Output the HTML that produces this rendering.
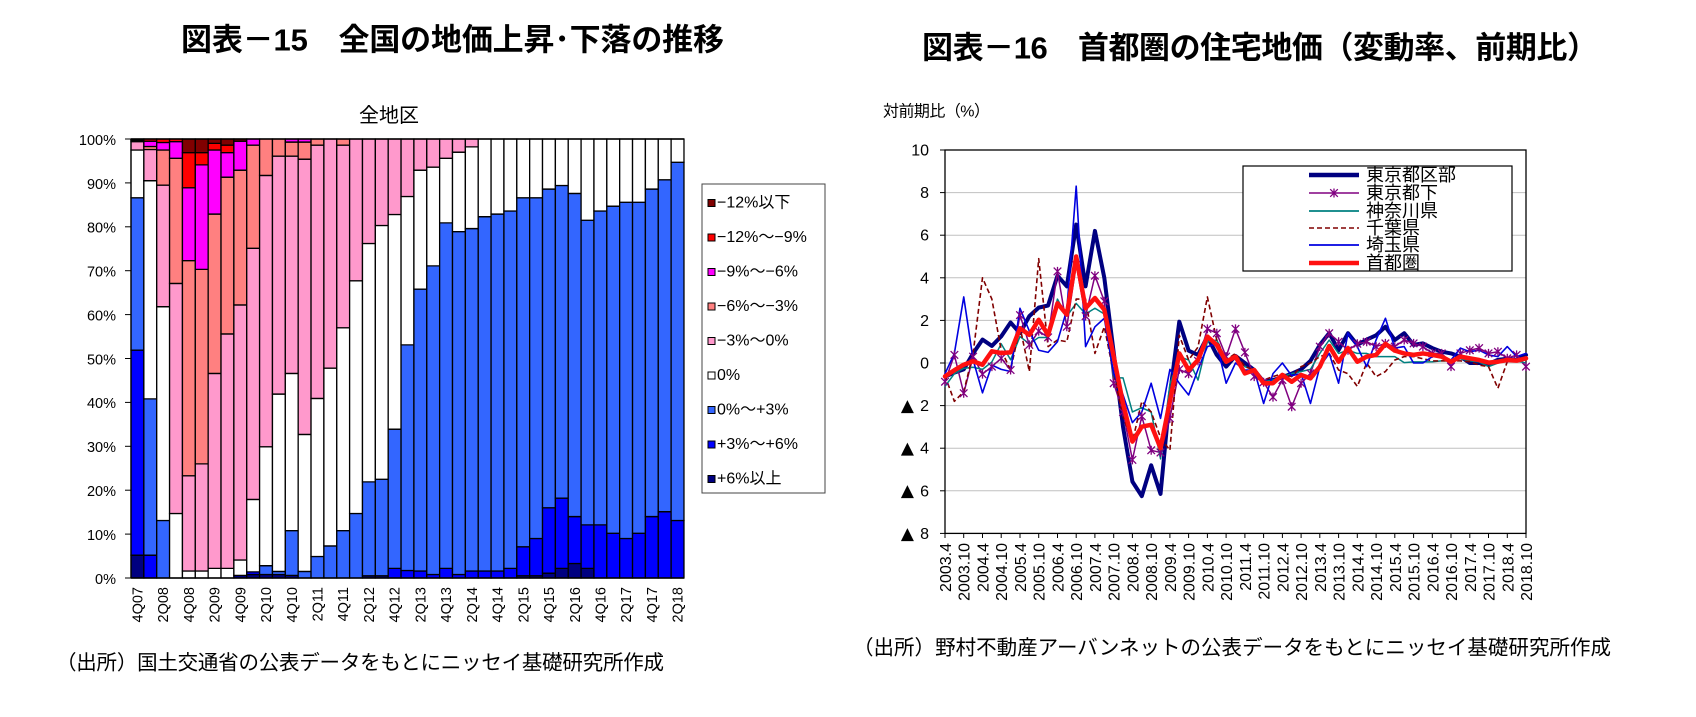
<!DOCTYPE html>
<html><head><meta charset="utf-8"><style>
html,body{margin:0;padding:0;background:#fff;}
svg{display:block;}
.bars rect{vector-effect:non-scaling-stroke;stroke:#000;stroke-width:1.3;}
.a{fill:#000080}.b{fill:#0000FF}.c{fill:#3366FF}.d{fill:#FFFFFF}.e{fill:#FF99CC}.f{fill:#FF8080}.g{fill:#FF00FF}.h{fill:#FF0000}.k{fill:#800000}
.ln polyline{vector-effect:non-scaling-stroke;fill:none;stroke-linejoin:round;stroke-linecap:round;}
text{font-family:"Liberation Sans","Noto Sans CJK JP",sans-serif;fill:#000;}
</style></head><body>
<svg width="1696" height="717" viewBox="0 0 1696 717" xmlns="http://www.w3.org/2000/svg">
<defs><path id="s" d="M0,-4.5V4.5M-3.8,-3.8L3.8,3.8M-3.8,3.8L3.8,-3.8" stroke="#800080" stroke-width="1.3" fill="none"/></defs>

<!-- Titles -->
<text x="181" y="40" font-size="31" font-weight="bold" dominant-baseline="central" textLength="543" lengthAdjust="spacing">図表－15　全国の地価上昇･下落の推移</text>
<text x="922" y="48" font-size="31" font-weight="bold" dominant-baseline="central" textLength="676" lengthAdjust="spacing">図表－16　首都圏の住宅地価（変動率、前期比）</text>

<!-- LEFT CHART -->
<text x="389" y="116" font-size="20" text-anchor="middle" dominant-baseline="central">全地区</text>
<g class="bars" transform="translate(131 578) scale(12.86 -4.39)">
<g transform="translate(0 0)"><rect class="a" x="0" y="0" width="1" height="5.2"/><rect class="b" x="0" y="5.2" width="1" height="46.7"/><rect class="c" x="0" y="51.9" width="1" height="34.7"/><rect class="d" x="0" y="86.6" width="1" height="10.9"/><rect class="e" x="0" y="97.5" width="1" height="1.9"/><rect class="f" x="0" y="99.4" width="1" height="0.3"/><rect class="k" x="0" y="99.7" width="1" height="0.3"/></g>
<g transform="translate(1 0)"><rect class="b" x="0" y="0" width="1" height="5.2"/><rect class="c" x="0" y="5.2" width="1" height="35.6"/><rect class="d" x="0" y="40.8" width="1" height="49.7"/><rect class="e" x="0" y="90.5" width="1" height="7.1"/><rect class="f" x="0" y="97.6" width="1" height="0.7"/><rect class="g" x="0" y="98.3" width="1" height="1.2"/><rect class="h" x="0" y="99.5" width="1" height="0.5"/></g>
<g transform="translate(2 0)"><rect class="c" x="0" y="0" width="1" height="13.1"/><rect class="d" x="0" y="13.1" width="1" height="48.7"/><rect class="e" x="0" y="61.8" width="1" height="27.7"/><rect class="f" x="0" y="89.5" width="1" height="8"/><rect class="g" x="0" y="97.5" width="1" height="1.7"/><rect class="h" x="0" y="99.2" width="1" height="0.8"/></g>
<g transform="translate(3 0)"><rect class="d" x="0" y="0" width="1" height="14.7"/><rect class="e" x="0" y="14.7" width="1" height="52.4"/><rect class="f" x="0" y="67.1" width="1" height="28.5"/><rect class="g" x="0" y="95.6" width="1" height="3.8"/><rect class="h" x="0" y="99.4" width="1" height="0.6"/></g>
<g transform="translate(4 0)"><rect class="d" x="0" y="0" width="1" height="1.6"/><rect class="e" x="0" y="1.6" width="1" height="21.7"/><rect class="f" x="0" y="23.3" width="1" height="49"/><rect class="g" x="0" y="72.3" width="1" height="16.6"/><rect class="h" x="0" y="88.9" width="1" height="8"/><rect class="k" x="0" y="96.9" width="1" height="3.1"/></g>
<g transform="translate(5 0)"><rect class="d" x="0" y="0" width="1" height="1.6"/><rect class="e" x="0" y="1.6" width="1" height="24.4"/><rect class="f" x="0" y="26" width="1" height="44.3"/><rect class="g" x="0" y="70.3" width="1" height="23.8"/><rect class="h" x="0" y="94.1" width="1" height="2.8"/><rect class="k" x="0" y="96.9" width="1" height="3.1"/></g>
<g transform="translate(6 0)"><rect class="d" x="0" y="0" width="1" height="2.2"/><rect class="e" x="0" y="2.2" width="1" height="44.4"/><rect class="f" x="0" y="46.6" width="1" height="36.3"/><rect class="g" x="0" y="82.9" width="1" height="14.6"/><rect class="h" x="0" y="97.5" width="1" height="1.5"/><rect class="k" x="0" y="99" width="1" height="1"/></g>
<g transform="translate(7 0)"><rect class="d" x="0" y="0" width="1" height="2.2"/><rect class="e" x="0" y="2.2" width="1" height="53.4"/><rect class="f" x="0" y="55.6" width="1" height="35.7"/><rect class="g" x="0" y="91.3" width="1" height="5.6"/><rect class="h" x="0" y="96.9" width="1" height="1.7"/><rect class="k" x="0" y="98.6" width="1" height="1.4"/></g>
<g transform="translate(8 0)"><rect class="a" x="0" y="0" width="1" height="0.6"/><rect class="d" x="0" y="0.6" width="1" height="3.5"/><rect class="e" x="0" y="4.1" width="1" height="58.1"/><rect class="f" x="0" y="62.2" width="1" height="30.7"/><rect class="g" x="0" y="92.9" width="1" height="6.6"/><rect class="k" x="0" y="99.5" width="1" height="0.5"/></g>
<g transform="translate(9 0)"><rect class="a" x="0" y="0" width="1" height="0.8"/><rect class="b" x="0" y="0.8" width="1" height="0.6"/><rect class="d" x="0" y="1.4" width="1" height="16.5"/><rect class="e" x="0" y="17.9" width="1" height="57.2"/><rect class="f" x="0" y="75.1" width="1" height="23.5"/><rect class="g" x="0" y="98.6" width="1" height="1.4"/></g>
<g transform="translate(10 0)"><rect class="a" x="0" y="0" width="1" height="0.8"/><rect class="c" x="0" y="0.8" width="1" height="2"/><rect class="d" x="0" y="2.8" width="1" height="27.1"/><rect class="e" x="0" y="29.9" width="1" height="61.8"/><rect class="f" x="0" y="91.7" width="1" height="8.3"/></g>
<g transform="translate(11 0)"><rect class="a" x="0" y="0" width="1" height="0.8"/><rect class="c" x="0" y="0.8" width="1" height="0.7"/><rect class="d" x="0" y="1.5" width="1" height="40.4"/><rect class="e" x="0" y="41.9" width="1" height="54.2"/><rect class="f" x="0" y="96.1" width="1" height="3.9"/></g>
<g transform="translate(12 0)"><rect class="a" x="0" y="0" width="1" height="0.6"/><rect class="c" x="0" y="0.6" width="1" height="10.2"/><rect class="d" x="0" y="10.8" width="1" height="35.8"/><rect class="e" x="0" y="46.6" width="1" height="49.5"/><rect class="f" x="0" y="96.1" width="1" height="3.2"/><rect class="g" x="0" y="99.3" width="1" height="0.7"/></g>
<g transform="translate(13 0)"><rect class="c" x="0" y="0" width="1" height="1.5"/><rect class="d" x="0" y="1.5" width="1" height="31.2"/><rect class="e" x="0" y="32.7" width="1" height="62.7"/><rect class="f" x="0" y="95.4" width="1" height="3.9"/><rect class="g" x="0" y="99.3" width="1" height="0.7"/></g>
<g transform="translate(14 0)"><rect class="c" x="0" y="0" width="1" height="4.9"/><rect class="d" x="0" y="4.9" width="1" height="36"/><rect class="e" x="0" y="40.9" width="1" height="57.7"/><rect class="f" x="0" y="98.6" width="1" height="1.4"/></g>
<g transform="translate(15 0)"><rect class="c" x="0" y="0" width="1" height="7.3"/><rect class="d" x="0" y="7.3" width="1" height="40.5"/><rect class="e" x="0" y="47.8" width="1" height="52.2"/></g>
<g transform="translate(16 0)"><rect class="c" x="0" y="0" width="1" height="10.8"/><rect class="d" x="0" y="10.8" width="1" height="46.2"/><rect class="e" x="0" y="57" width="1" height="41.6"/><rect class="f" x="0" y="98.6" width="1" height="1.4"/></g>
<g transform="translate(17 0)"><rect class="c" x="0" y="0" width="1" height="14.7"/><rect class="d" x="0" y="14.7" width="1" height="53"/><rect class="e" x="0" y="67.7" width="1" height="32.3"/></g>
<g transform="translate(18 0)"><rect class="a" x="0" y="0" width="1" height="0.5"/><rect class="c" x="0" y="0.5" width="1" height="21.4"/><rect class="d" x="0" y="21.9" width="1" height="54.3"/><rect class="e" x="0" y="76.2" width="1" height="23.8"/></g>
<g transform="translate(19 0)"><rect class="a" x="0" y="0" width="1" height="0.5"/><rect class="c" x="0" y="0.5" width="1" height="22"/><rect class="d" x="0" y="22.5" width="1" height="57.8"/><rect class="e" x="0" y="80.3" width="1" height="19.7"/></g>
<g transform="translate(20 0)"><rect class="b" x="0" y="0" width="1" height="2.2"/><rect class="c" x="0" y="2.2" width="1" height="31.7"/><rect class="d" x="0" y="33.9" width="1" height="48.9"/><rect class="e" x="0" y="82.8" width="1" height="17.2"/></g>
<g transform="translate(21 0)"><rect class="b" x="0" y="0" width="1" height="1.7"/><rect class="c" x="0" y="1.7" width="1" height="51.4"/><rect class="d" x="0" y="53.1" width="1" height="33.8"/><rect class="e" x="0" y="86.9" width="1" height="13.1"/></g>
<g transform="translate(22 0)"><rect class="b" x="0" y="0" width="1" height="1.6"/><rect class="c" x="0" y="1.6" width="1" height="64.2"/><rect class="d" x="0" y="65.8" width="1" height="27.1"/><rect class="e" x="0" y="92.9" width="1" height="7.1"/></g>
<g transform="translate(23 0)"><rect class="b" x="0" y="0" width="1" height="0.8"/><rect class="c" x="0" y="0.8" width="1" height="70.3"/><rect class="d" x="0" y="71.1" width="1" height="22.5"/><rect class="e" x="0" y="93.6" width="1" height="6.4"/></g>
<g transform="translate(24 0)"><rect class="b" x="0" y="0" width="1" height="2.2"/><rect class="c" x="0" y="2.2" width="1" height="78.7"/><rect class="d" x="0" y="80.9" width="1" height="14.7"/><rect class="e" x="0" y="95.6" width="1" height="4.4"/></g>
<g transform="translate(25 0)"><rect class="b" x="0" y="0" width="1" height="0.8"/><rect class="c" x="0" y="0.8" width="1" height="78.1"/><rect class="d" x="0" y="78.9" width="1" height="18.1"/><rect class="e" x="0" y="97" width="1" height="3"/></g>
<g transform="translate(26 0)"><rect class="b" x="0" y="0" width="1" height="1.6"/><rect class="c" x="0" y="1.6" width="1" height="78"/><rect class="d" x="0" y="79.6" width="1" height="18.6"/><rect class="e" x="0" y="98.2" width="1" height="1.8"/></g>
<g transform="translate(27 0)"><rect class="b" x="0" y="0" width="1" height="1.6"/><rect class="c" x="0" y="1.6" width="1" height="80.7"/><rect class="d" x="0" y="82.3" width="1" height="17.7"/></g>
<g transform="translate(28 0)"><rect class="b" x="0" y="0" width="1" height="1.6"/><rect class="c" x="0" y="1.6" width="1" height="81.3"/><rect class="d" x="0" y="82.9" width="1" height="17.1"/></g>
<g transform="translate(29 0)"><rect class="b" x="0" y="0" width="1" height="2.2"/><rect class="c" x="0" y="2.2" width="1" height="81.4"/><rect class="d" x="0" y="83.6" width="1" height="16.4"/></g>
<g transform="translate(30 0)"><rect class="a" x="0" y="0" width="1" height="0.5"/><rect class="b" x="0" y="0.5" width="1" height="6.6"/><rect class="c" x="0" y="7.1" width="1" height="79.5"/><rect class="d" x="0" y="86.6" width="1" height="13.4"/></g>
<g transform="translate(31 0)"><rect class="a" x="0" y="0" width="1" height="0.5"/><rect class="b" x="0" y="0.5" width="1" height="8.5"/><rect class="c" x="0" y="9" width="1" height="77.6"/><rect class="d" x="0" y="86.6" width="1" height="13.4"/></g>
<g transform="translate(32 0)"><rect class="a" x="0" y="0" width="1" height="1.1"/><rect class="b" x="0" y="1.1" width="1" height="14.9"/><rect class="c" x="0" y="16" width="1" height="72.6"/><rect class="d" x="0" y="88.6" width="1" height="11.4"/></g>
<g transform="translate(33 0)"><rect class="a" x="0" y="0" width="1" height="2.2"/><rect class="b" x="0" y="2.2" width="1" height="16"/><rect class="c" x="0" y="18.2" width="1" height="71.2"/><rect class="d" x="0" y="89.4" width="1" height="10.6"/></g>
<g transform="translate(34 0)"><rect class="a" x="0" y="0" width="1" height="3.3"/><rect class="b" x="0" y="3.3" width="1" height="10.7"/><rect class="c" x="0" y="14" width="1" height="73.6"/><rect class="d" x="0" y="87.6" width="1" height="12.4"/></g>
<g transform="translate(35 0)"><rect class="a" x="0" y="0" width="1" height="2.2"/><rect class="b" x="0" y="2.2" width="1" height="9.9"/><rect class="c" x="0" y="12.1" width="1" height="69.4"/><rect class="d" x="0" y="81.5" width="1" height="18.5"/></g>
<g transform="translate(36 0)"><rect class="b" x="0" y="0" width="1" height="12.1"/><rect class="c" x="0" y="12.1" width="1" height="71.5"/><rect class="d" x="0" y="83.6" width="1" height="16.4"/></g>
<g transform="translate(37 0)"><rect class="b" x="0" y="0" width="1" height="10.2"/><rect class="c" x="0" y="10.2" width="1" height="74.5"/><rect class="d" x="0" y="84.7" width="1" height="15.3"/></g>
<g transform="translate(38 0)"><rect class="b" x="0" y="0" width="1" height="9"/><rect class="c" x="0" y="9" width="1" height="76.6"/><rect class="d" x="0" y="85.6" width="1" height="14.4"/></g>
<g transform="translate(39 0)"><rect class="b" x="0" y="0" width="1" height="10.2"/><rect class="c" x="0" y="10.2" width="1" height="75.4"/><rect class="d" x="0" y="85.6" width="1" height="14.4"/></g>
<g transform="translate(40 0)"><rect class="b" x="0" y="0" width="1" height="14"/><rect class="c" x="0" y="14" width="1" height="74.6"/><rect class="d" x="0" y="88.6" width="1" height="11.4"/></g>
<g transform="translate(41 0)"><rect class="b" x="0" y="0" width="1" height="15.1"/><rect class="c" x="0" y="15.1" width="1" height="75.6"/><rect class="d" x="0" y="90.7" width="1" height="9.3"/></g>
<g transform="translate(42 0)"><rect class="b" x="0" y="0" width="1" height="13.1"/><rect class="c" x="0" y="13.1" width="1" height="81.6"/><rect class="d" x="0" y="94.7" width="1" height="5.3"/></g>
</g>
<line x1="131" y1="578" x2="684" y2="578" stroke="#000" stroke-width="1.5"/>
<line x1="131" y1="139" x2="131" y2="578" stroke="#000" stroke-width="1.2"/>
<line x1="131" y1="139" x2="684" y2="139" stroke="#000" stroke-width="1.5"/>
<g stroke="#000" stroke-width="1">
<line x1="125" y1="578" x2="131" y2="578"/><line x1="125" y1="534.1" x2="131" y2="534.1"/><line x1="125" y1="490.2" x2="131" y2="490.2"/><line x1="125" y1="446.3" x2="131" y2="446.3"/><line x1="125" y1="402.4" x2="131" y2="402.4"/><line x1="125" y1="358.5" x2="131" y2="358.5"/><line x1="125" y1="314.6" x2="131" y2="314.6"/><line x1="125" y1="270.7" x2="131" y2="270.7"/><line x1="125" y1="226.8" x2="131" y2="226.8"/><line x1="125" y1="182.9" x2="131" y2="182.9"/><line x1="125" y1="139" x2="131" y2="139"/>
</g>
<g font-size="14.5" text-anchor="end" dominant-baseline="central" fill="#111">
<text x="116" y="580">0%</text><text x="116" y="536">10%</text><text x="116" y="492">20%</text><text x="116" y="448">30%</text><text x="116" y="404">40%</text><text x="116" y="360.5">50%</text><text x="116" y="316.5">60%</text><text x="116" y="272.5">70%</text><text x="116" y="228.5">80%</text><text x="116" y="185">90%</text><text x="116" y="141">100%</text>
</g>
<g font-size="14.5" text-anchor="end">
<text transform="translate(142.4 587) rotate(-90)">4Q07</text>
<text transform="translate(168.2 587) rotate(-90)">2Q08</text>
<text transform="translate(193.9 587) rotate(-90)">4Q08</text>
<text transform="translate(219.6 587) rotate(-90)">2Q09</text>
<text transform="translate(245.3 587) rotate(-90)">4Q09</text>
<text transform="translate(271.1 587) rotate(-90)">2Q10</text>
<text transform="translate(296.8 587) rotate(-90)">4Q10</text>
<text transform="translate(322.5 587) rotate(-90)">2Q11</text>
<text transform="translate(348.2 587) rotate(-90)">4Q11</text>
<text transform="translate(374.0 587) rotate(-90)">2Q12</text>
<text transform="translate(399.7 587) rotate(-90)">4Q12</text>
<text transform="translate(425.4 587) rotate(-90)">2Q13</text>
<text transform="translate(451.1 587) rotate(-90)">4Q13</text>
<text transform="translate(476.9 587) rotate(-90)">2Q14</text>
<text transform="translate(502.6 587) rotate(-90)">4Q14</text>
<text transform="translate(528.3 587) rotate(-90)">2Q15</text>
<text transform="translate(554.0 587) rotate(-90)">4Q15</text>
<text transform="translate(579.8 587) rotate(-90)">2Q16</text>
<text transform="translate(605.5 587) rotate(-90)">4Q16</text>
<text transform="translate(631.2 587) rotate(-90)">2Q17</text>
<text transform="translate(656.9 587) rotate(-90)">4Q17</text>
<text transform="translate(682.7 587) rotate(-90)">2Q18</text>
</g>
<!-- left legend -->
<rect x="702" y="184" width="123" height="309" fill="#fff" stroke="#444" stroke-width="1"/>
<g stroke="#000" stroke-width="1">
<rect x="708" y="199.5" width="7" height="7" fill="#800000"/>
<rect x="708" y="234" width="7" height="7" fill="#FF0000"/>
<rect x="708" y="268.5" width="7" height="7" fill="#FF00FF"/>
<rect x="708" y="303" width="7" height="7" fill="#FF8080"/>
<rect x="708" y="337.5" width="7" height="7" fill="#FF99CC"/>
<rect x="708" y="372" width="7" height="7" fill="#FFFFFF"/>
<rect x="708" y="406.5" width="7" height="7" fill="#3366FF"/>
<rect x="708" y="441" width="7" height="7" fill="#0000FF"/>
<rect x="708" y="475.5" width="7" height="7" fill="#000080"/>
</g>
<g font-size="16" dominant-baseline="central" fill="#222">
<text x="717" y="203">−12%以下</text>
<text x="717" y="237.5">−12%〜−9%</text>
<text x="717" y="272">−9%〜−6%</text>
<text x="717" y="306.5">−6%〜−3%</text>
<text x="717" y="341">−3%〜0%</text>
<text x="717" y="375.5">0%</text>
<text x="717" y="410">0%〜+3%</text>
<text x="717" y="444.5">+3%〜+6%</text>
<text x="717" y="479">+6%以上</text>
</g>
<text x="56" y="663" font-size="20.5" dominant-baseline="central" textLength="608" lengthAdjust="spacing">（出所）国土交通省の公表データをもとにニッセイ基礎研究所作成</text>

<!-- RIGHT CHART -->
<text x="883" y="112" font-size="16" dominant-baseline="central" textLength="107" lengthAdjust="spacing">対前期比（%）</text>
<g stroke="#C0C0C0" stroke-width="1">
<line x1="945" y1="192.6" x2="1526" y2="192.6"/><line x1="945" y1="235.2" x2="1526" y2="235.2"/><line x1="945" y1="277.8" x2="1526" y2="277.8"/><line x1="945" y1="320.4" x2="1526" y2="320.4"/><line x1="945" y1="363" x2="1526" y2="363"/><line x1="945" y1="405.6" x2="1526" y2="405.6"/><line x1="945" y1="448.2" x2="1526" y2="448.2"/><line x1="945" y1="490.8" x2="1526" y2="490.8"/>
</g>
<g stroke="#000" stroke-width="1">
<line x1="940" y1="150" x2="945" y2="150"/><line x1="940" y1="192.6" x2="945" y2="192.6"/><line x1="940" y1="235.2" x2="945" y2="235.2"/><line x1="940" y1="277.8" x2="945" y2="277.8"/><line x1="940" y1="320.4" x2="945" y2="320.4"/><line x1="940" y1="363" x2="945" y2="363"/><line x1="940" y1="405.6" x2="945" y2="405.6"/><line x1="940" y1="448.2" x2="945" y2="448.2"/><line x1="940" y1="490.8" x2="945" y2="490.8"/><line x1="940" y1="533.4" x2="945" y2="533.4"/>
<line x1="945.0" y1="533" x2="945.0" y2="538"/><line x1="963.7" y1="533" x2="963.7" y2="538"/><line x1="982.5" y1="533" x2="982.5" y2="538"/><line x1="1001.2" y1="533" x2="1001.2" y2="538"/><line x1="1020.0" y1="533" x2="1020.0" y2="538"/><line x1="1038.7" y1="533" x2="1038.7" y2="538"/><line x1="1057.5" y1="533" x2="1057.5" y2="538"/><line x1="1076.2" y1="533" x2="1076.2" y2="538"/><line x1="1094.9" y1="533" x2="1094.9" y2="538"/><line x1="1113.7" y1="533" x2="1113.7" y2="538"/><line x1="1132.4" y1="533" x2="1132.4" y2="538"/><line x1="1151.2" y1="533" x2="1151.2" y2="538"/><line x1="1169.9" y1="533" x2="1169.9" y2="538"/><line x1="1188.6" y1="533" x2="1188.6" y2="538"/><line x1="1207.4" y1="533" x2="1207.4" y2="538"/><line x1="1226.1" y1="533" x2="1226.1" y2="538"/><line x1="1244.9" y1="533" x2="1244.9" y2="538"/><line x1="1263.6" y1="533" x2="1263.6" y2="538"/><line x1="1282.4" y1="533" x2="1282.4" y2="538"/><line x1="1301.1" y1="533" x2="1301.1" y2="538"/><line x1="1319.8" y1="533" x2="1319.8" y2="538"/><line x1="1338.6" y1="533" x2="1338.6" y2="538"/><line x1="1357.3" y1="533" x2="1357.3" y2="538"/><line x1="1376.1" y1="533" x2="1376.1" y2="538"/><line x1="1394.8" y1="533" x2="1394.8" y2="538"/><line x1="1413.6" y1="533" x2="1413.6" y2="538"/><line x1="1432.3" y1="533" x2="1432.3" y2="538"/><line x1="1451.0" y1="533" x2="1451.0" y2="538"/><line x1="1469.8" y1="533" x2="1469.8" y2="538"/><line x1="1488.5" y1="533" x2="1488.5" y2="538"/><line x1="1507.3" y1="533" x2="1507.3" y2="538"/><line x1="1526.0" y1="533" x2="1526.0" y2="538"/>
</g>
<rect x="945" y="150" width="581" height="383.4" fill="none" stroke="#000" stroke-width="1.3"/>
<g font-size="16" text-anchor="end" dominant-baseline="central">
<text x="929" y="151">10</text><text x="929" y="193.6">8</text><text x="929" y="236.2">6</text><text x="929" y="278.8">4</text><text x="929" y="321.4">2</text><text x="929" y="364">0</text><text x="929" y="406.6">2</text><text x="929" y="449.2">4</text><text x="929" y="491.8">6</text><text x="929" y="534.4">8</text>
</g>
<g font-size="17" text-anchor="end" dominant-baseline="central" style="font-family:'DejaVu Sans',sans-serif">
<text x="914" y="406" style="font-family:'DejaVu Sans',sans-serif">▲</text><text x="914" y="448.6" style="font-family:'DejaVu Sans',sans-serif">▲</text><text x="914" y="491.2" style="font-family:'DejaVu Sans',sans-serif">▲</text><text x="914" y="533.8" style="font-family:'DejaVu Sans',sans-serif">▲</text>
</g>
<g font-size="16" text-anchor="end">
<text transform="translate(951.0 543) rotate(-90)">2003.4</text>
<text transform="translate(969.7 543) rotate(-90)">2003.10</text>
<text transform="translate(988.5 543) rotate(-90)">2004.4</text>
<text transform="translate(1007.2 543) rotate(-90)">2004.10</text>
<text transform="translate(1026.0 543) rotate(-90)">2005.4</text>
<text transform="translate(1044.7 543) rotate(-90)">2005.10</text>
<text transform="translate(1063.5 543) rotate(-90)">2006.4</text>
<text transform="translate(1082.2 543) rotate(-90)">2006.10</text>
<text transform="translate(1100.9 543) rotate(-90)">2007.4</text>
<text transform="translate(1119.7 543) rotate(-90)">2007.10</text>
<text transform="translate(1138.4 543) rotate(-90)">2008.4</text>
<text transform="translate(1157.2 543) rotate(-90)">2008.10</text>
<text transform="translate(1175.9 543) rotate(-90)">2009.4</text>
<text transform="translate(1194.6 543) rotate(-90)">2009.10</text>
<text transform="translate(1213.4 543) rotate(-90)">2010.4</text>
<text transform="translate(1232.1 543) rotate(-90)">2010.10</text>
<text transform="translate(1250.9 543) rotate(-90)">2011.4</text>
<text transform="translate(1269.6 543) rotate(-90)">2011.10</text>
<text transform="translate(1288.4 543) rotate(-90)">2012.4</text>
<text transform="translate(1307.1 543) rotate(-90)">2012.10</text>
<text transform="translate(1325.8 543) rotate(-90)">2013.4</text>
<text transform="translate(1344.6 543) rotate(-90)">2013.10</text>
<text transform="translate(1363.3 543) rotate(-90)">2014.4</text>
<text transform="translate(1382.1 543) rotate(-90)">2014.10</text>
<text transform="translate(1400.8 543) rotate(-90)">2015.4</text>
<text transform="translate(1419.6 543) rotate(-90)">2015.10</text>
<text transform="translate(1438.3 543) rotate(-90)">2016.4</text>
<text transform="translate(1457.0 543) rotate(-90)">2016.10</text>
<text transform="translate(1475.8 543) rotate(-90)">2017.4</text>
<text transform="translate(1494.5 543) rotate(-90)">2017.10</text>
<text transform="translate(1513.3 543) rotate(-90)">2018.4</text>
<text transform="translate(1532.0 543) rotate(-90)">2018.10</text>
</g>

<g class="ln" transform="translate(945 363) scale(9.371 -21.3)">
<polyline stroke="#000080" stroke-width="4" points="0,-0.64 1,-0.45 2,-0.3 3,0.45 4,1.1 5,0.8 6,1.25 7,1.9 8,1.4 9,2.2 10,2.6 11,2.7 12,4.1 13,3.6 14,6.5 15,3.6 16,6.2 17,4.0 18,0.5 19,-3.0 20,-5.57 21,-6.25 22,-4.8 23,-6.15 24,-1.5 25,1.94 26,0.58 27,0.38 28,1.24 29,0.38 30,-0.17 31,0.33 32,0 33,-0.33 34,-0.88 35,-0.8 36,-0.67 37,-0.5 38,-0.3 39,0.1 40,0.85 41,1.4 42,0.6 43,1.4 44,0.85 45,1.1 46,1.3 47,1.7 48,1.08 49,1.4 50,0.85 51,0.92 52,0.7 53,0.53 54,0.45 55,0.3 56,0 57,0 58,-0.05 59,0.15 60,0.2 61,0.15 62,0.38"/>
<polyline stroke="#800080" stroke-width="1.5" points="0,-0.88 1,0.38 2,-1.42 3,0.3 4,-0.52 5,-0.17 6,0.22 7,-0.33 8,2.25 9,0.85 10,1.5 11,1.2 12,4.3 13,1.7 14,4.6 15,2.2 16,4.1 17,2.9 18,-0.95 19,-2.3 20,-4.55 21,-2.5 22,-4.1 23,-4.2 24,-2.6 25,-0.3 26,-0.5 27,0.1 28,1.6 29,1.4 30,0.3 31,1.6 32,0.5 33,-0.64 34,-0.9 35,-1.6 36,-0.8 37,-2.05 38,-0.95 39,-0.49 40,0.77 41,1.4 42,1.0 43,0.6 44,0.9 45,1.0 46,0.77 47,0.92 48,0.77 49,1.08 50,0.92 51,0.77 52,0.45 53,0.45 54,-0.17 55,0.45 56,0.6 57,0.7 58,0.45 59,0.53 60,0.22 61,0.38 62,-0.17"/>
<polyline stroke="#008080" stroke-width="1.5" points="0,-1.1 1,-0.5 2,-0.25 3,-0.2 4,-0.3 5,0.05 6,0.9 7,0.15 8,1.24 9,0.9 10,1.2 11,1.2 12,3.0 13,2.2 14,2.8 15,2.3 16,2.57 17,2.3 18,-0.7 19,-0.7 20,-2.3 21,-2.1 22,-2.3 23,-4.5 24,-1.0 25,0.3 26,0.14 27,-0.8 28,1.0 29,1.08 30,0.14 31,0.3 32,-0.17 33,-0.33 34,-0.88 35,-0.8 36,-0.64 37,-0.5 38,-0.4 39,-0.3 40,0.45 41,1.08 42,0.45 43,0.6 44,0.45 45,0.45 46,0.3 47,0.3 48,0.3 49,0.02 50,0.05 51,0.05 52,0.06 53,0.1 54,0.1 55,0.2 56,0.1 57,0.05 58,-0.17 59,0 60,0.1 61,0.1 62,0"/>
<polyline stroke="#800000" stroke-width="1.6" stroke-dasharray="5 3" style="stroke-linecap:butt" points="0,-0.6 1,-1.8 2,-1.35 3,0.45 4,4.0 5,3.0 6,0.6 7,-0.33 8,1.7 9,-0.4 10,4.9 11,0.77 12,1.08 13,1.0 14,3.0 15,3.0 16,0.45 17,1.7 18,-0.5 19,-2.5 20,-3.69 21,-1.8 22,-2.3 23,-3.5 24,-4.1 25,1.3 26,0.14 27,0.75 28,3.1 29,1.08 30,0.14 31,0.45 32,-0.17 33,-0.33 34,-0.8 35,-0.64 36,-0.5 37,-0.64 38,-0.17 39,0 40,0.3 41,0.45 42,-0.33 43,-0.5 44,-1.1 45,0 46,-0.64 47,-0.4 48,0.14 49,0.3 50,0.3 51,0.2 52,0.1 53,0.1 54,0.1 55,0.1 56,0.06 57,-0.1 58,-0.17 59,-1.19 60,0.06 61,0.14 62,0.14"/>
<polyline stroke="#0000E0" stroke-width="1.6" points="0,-0.5 1,0.45 2,3.1 3,0.15 4,-1.4 5,-0.1 6,-0.3 7,-0.4 8,2.57 9,1.5 10,0.6 11,0.5 12,1.0 13,2.5 14,8.3 15,0.77 16,1.7 17,2.1 18,-0.5 19,-1.5 20,-2.8 21,-2.3 22,-0.95 23,-2.6 24,-0.3 25,-0.95 26,-1.5 27,-0.3 28,0.77 29,0.9 30,-0.95 31,0 32,-0.33 33,-0.33 34,-1.9 35,-0.5 36,0 37,-0.6 38,-0.5 39,-1.9 40,-0.17 41,0.45 42,-0.95 43,1.4 44,0.77 45,-0.17 46,1.08 47,2.1 48,0.7 49,0.77 50,0 51,0 52,0.3 53,0.3 54,0.14 55,0.7 56,0.53 57,0.6 58,0.38 59,0.3 60,0.77 61,0.3 62,0.45"/>
</g>
<g>
<use href="#s" x="945.0" y="381.7"/><use href="#s" x="954.4" y="354.9"/><use href="#s" x="963.7" y="393.2"/><use href="#s" x="973.1" y="356.6"/><use href="#s" x="982.5" y="374.1"/><use href="#s" x="991.9" y="366.6"/><use href="#s" x="1001.2" y="358.3"/><use href="#s" x="1010.6" y="370.0"/><use href="#s" x="1020.0" y="315.1"/><use href="#s" x="1029.3" y="344.9"/><use href="#s" x="1038.7" y="331.1"/><use href="#s" x="1048.1" y="337.4"/><use href="#s" x="1057.5" y="271.4"/><use href="#s" x="1066.8" y="326.8"/><use href="#s" x="1076.2" y="265.0"/><use href="#s" x="1085.6" y="316.1"/><use href="#s" x="1094.9" y="275.7"/><use href="#s" x="1104.3" y="301.2"/><use href="#s" x="1113.7" y="383.2"/><use href="#s" x="1123.0" y="412.0"/><use href="#s" x="1132.4" y="459.9"/><use href="#s" x="1141.8" y="416.3"/><use href="#s" x="1151.2" y="450.3"/><use href="#s" x="1160.5" y="452.5"/><use href="#s" x="1169.9" y="418.4"/><use href="#s" x="1179.3" y="369.4"/><use href="#s" x="1188.6" y="373.7"/><use href="#s" x="1198.0" y="360.9"/><use href="#s" x="1207.4" y="328.9"/><use href="#s" x="1216.8" y="333.2"/><use href="#s" x="1226.1" y="356.6"/><use href="#s" x="1235.5" y="328.9"/><use href="#s" x="1244.9" y="352.4"/><use href="#s" x="1254.2" y="376.6"/><use href="#s" x="1263.6" y="382.2"/><use href="#s" x="1273.0" y="397.1"/><use href="#s" x="1282.4" y="380.0"/><use href="#s" x="1291.7" y="406.7"/><use href="#s" x="1301.1" y="383.2"/><use href="#s" x="1310.5" y="373.4"/><use href="#s" x="1319.8" y="346.6"/><use href="#s" x="1329.2" y="333.2"/><use href="#s" x="1338.6" y="341.7"/><use href="#s" x="1348.0" y="350.2"/><use href="#s" x="1357.3" y="343.8"/><use href="#s" x="1366.7" y="341.7"/><use href="#s" x="1376.1" y="346.6"/><use href="#s" x="1385.4" y="343.4"/><use href="#s" x="1394.8" y="346.6"/><use href="#s" x="1404.2" y="340.0"/><use href="#s" x="1413.6" y="343.4"/><use href="#s" x="1422.9" y="346.6"/><use href="#s" x="1432.3" y="353.4"/><use href="#s" x="1441.7" y="353.4"/><use href="#s" x="1451.0" y="366.6"/><use href="#s" x="1460.4" y="353.4"/><use href="#s" x="1469.8" y="350.2"/><use href="#s" x="1479.1" y="348.1"/><use href="#s" x="1488.5" y="353.4"/><use href="#s" x="1497.9" y="351.7"/><use href="#s" x="1507.3" y="358.3"/><use href="#s" x="1516.6" y="354.9"/><use href="#s" x="1526.0" y="366.6"/>
</g>
<g class="ln" transform="translate(945 363) scale(9.371 -21.3)">
<polyline stroke="#FF1010" stroke-width="4.5" points="0,-0.63 1,-0.34 2,-0.08 3,0.08 4,-0.08 5,0.55 6,0.47 7,0.5 8,1.63 9,1.32 10,2.03 11,1.32 12,2.8 13,2.27 14,5.0 15,2.57 16,3.05 17,2.5 18,0.3 19,-1.9 20,-3.69 21,-2.99 22,-2.9 23,-4.0 24,-1.8 25,0.45 26,-0.33 27,0.14 28,1.24 29,0.85 30,0.06 31,0.3 32,-0.49 33,-0.33 34,-0.95 35,-0.95 36,-0.56 37,-0.88 38,-0.56 39,-0.72 40,-0.17 41,0.8 42,0.06 43,0.7 44,0.06 45,0.3 46,0.38 47,0.9 48,0.58 49,0.45 50,0.38 51,0.45 52,0.38 53,0.3 54,0.06 55,0.3 56,0.22 57,0.14 58,0.02 59,0.06 60,0.14 61,0.11 62,0.22"/>
</g>

<!-- right legend -->
<rect x="1243" y="166" width="269" height="105" fill="#fff" stroke="#000" stroke-width="1.2"/>
<line x1="1309" y1="175" x2="1359" y2="175" stroke="#000080" stroke-width="4.5"/>
<line x1="1309" y1="193" x2="1359" y2="193" stroke="#800080" stroke-width="1.5"/>
<use href="#s" x="1334" y="193"/>
<line x1="1309" y1="211" x2="1359" y2="211" stroke="#008080" stroke-width="1.8"/>
<line x1="1309" y1="228" x2="1359" y2="228" stroke="#800000" stroke-width="1.6" stroke-dasharray="5 3"/>
<line x1="1309" y1="245" x2="1359" y2="245" stroke="#0000E0" stroke-width="1.8"/>
<line x1="1309" y1="263" x2="1359" y2="263" stroke="#FF1010" stroke-width="4.5"/>
<g font-size="18" dominant-baseline="central">
<text x="1366" y="175">東京都区部</text>
<text x="1366" y="193">東京都下</text>
<text x="1366" y="211">神奈川県</text>
<text x="1366" y="228">千葉県</text>
<text x="1366" y="245">埼玉県</text>
<text x="1366" y="263">首都圏</text>
</g>
<text x="853" y="648" font-size="20.5" dominant-baseline="central" textLength="758" lengthAdjust="spacing">（出所）野村不動産アーバンネットの公表データをもとにニッセイ基礎研究所作成</text>
</svg>
</body></html>
